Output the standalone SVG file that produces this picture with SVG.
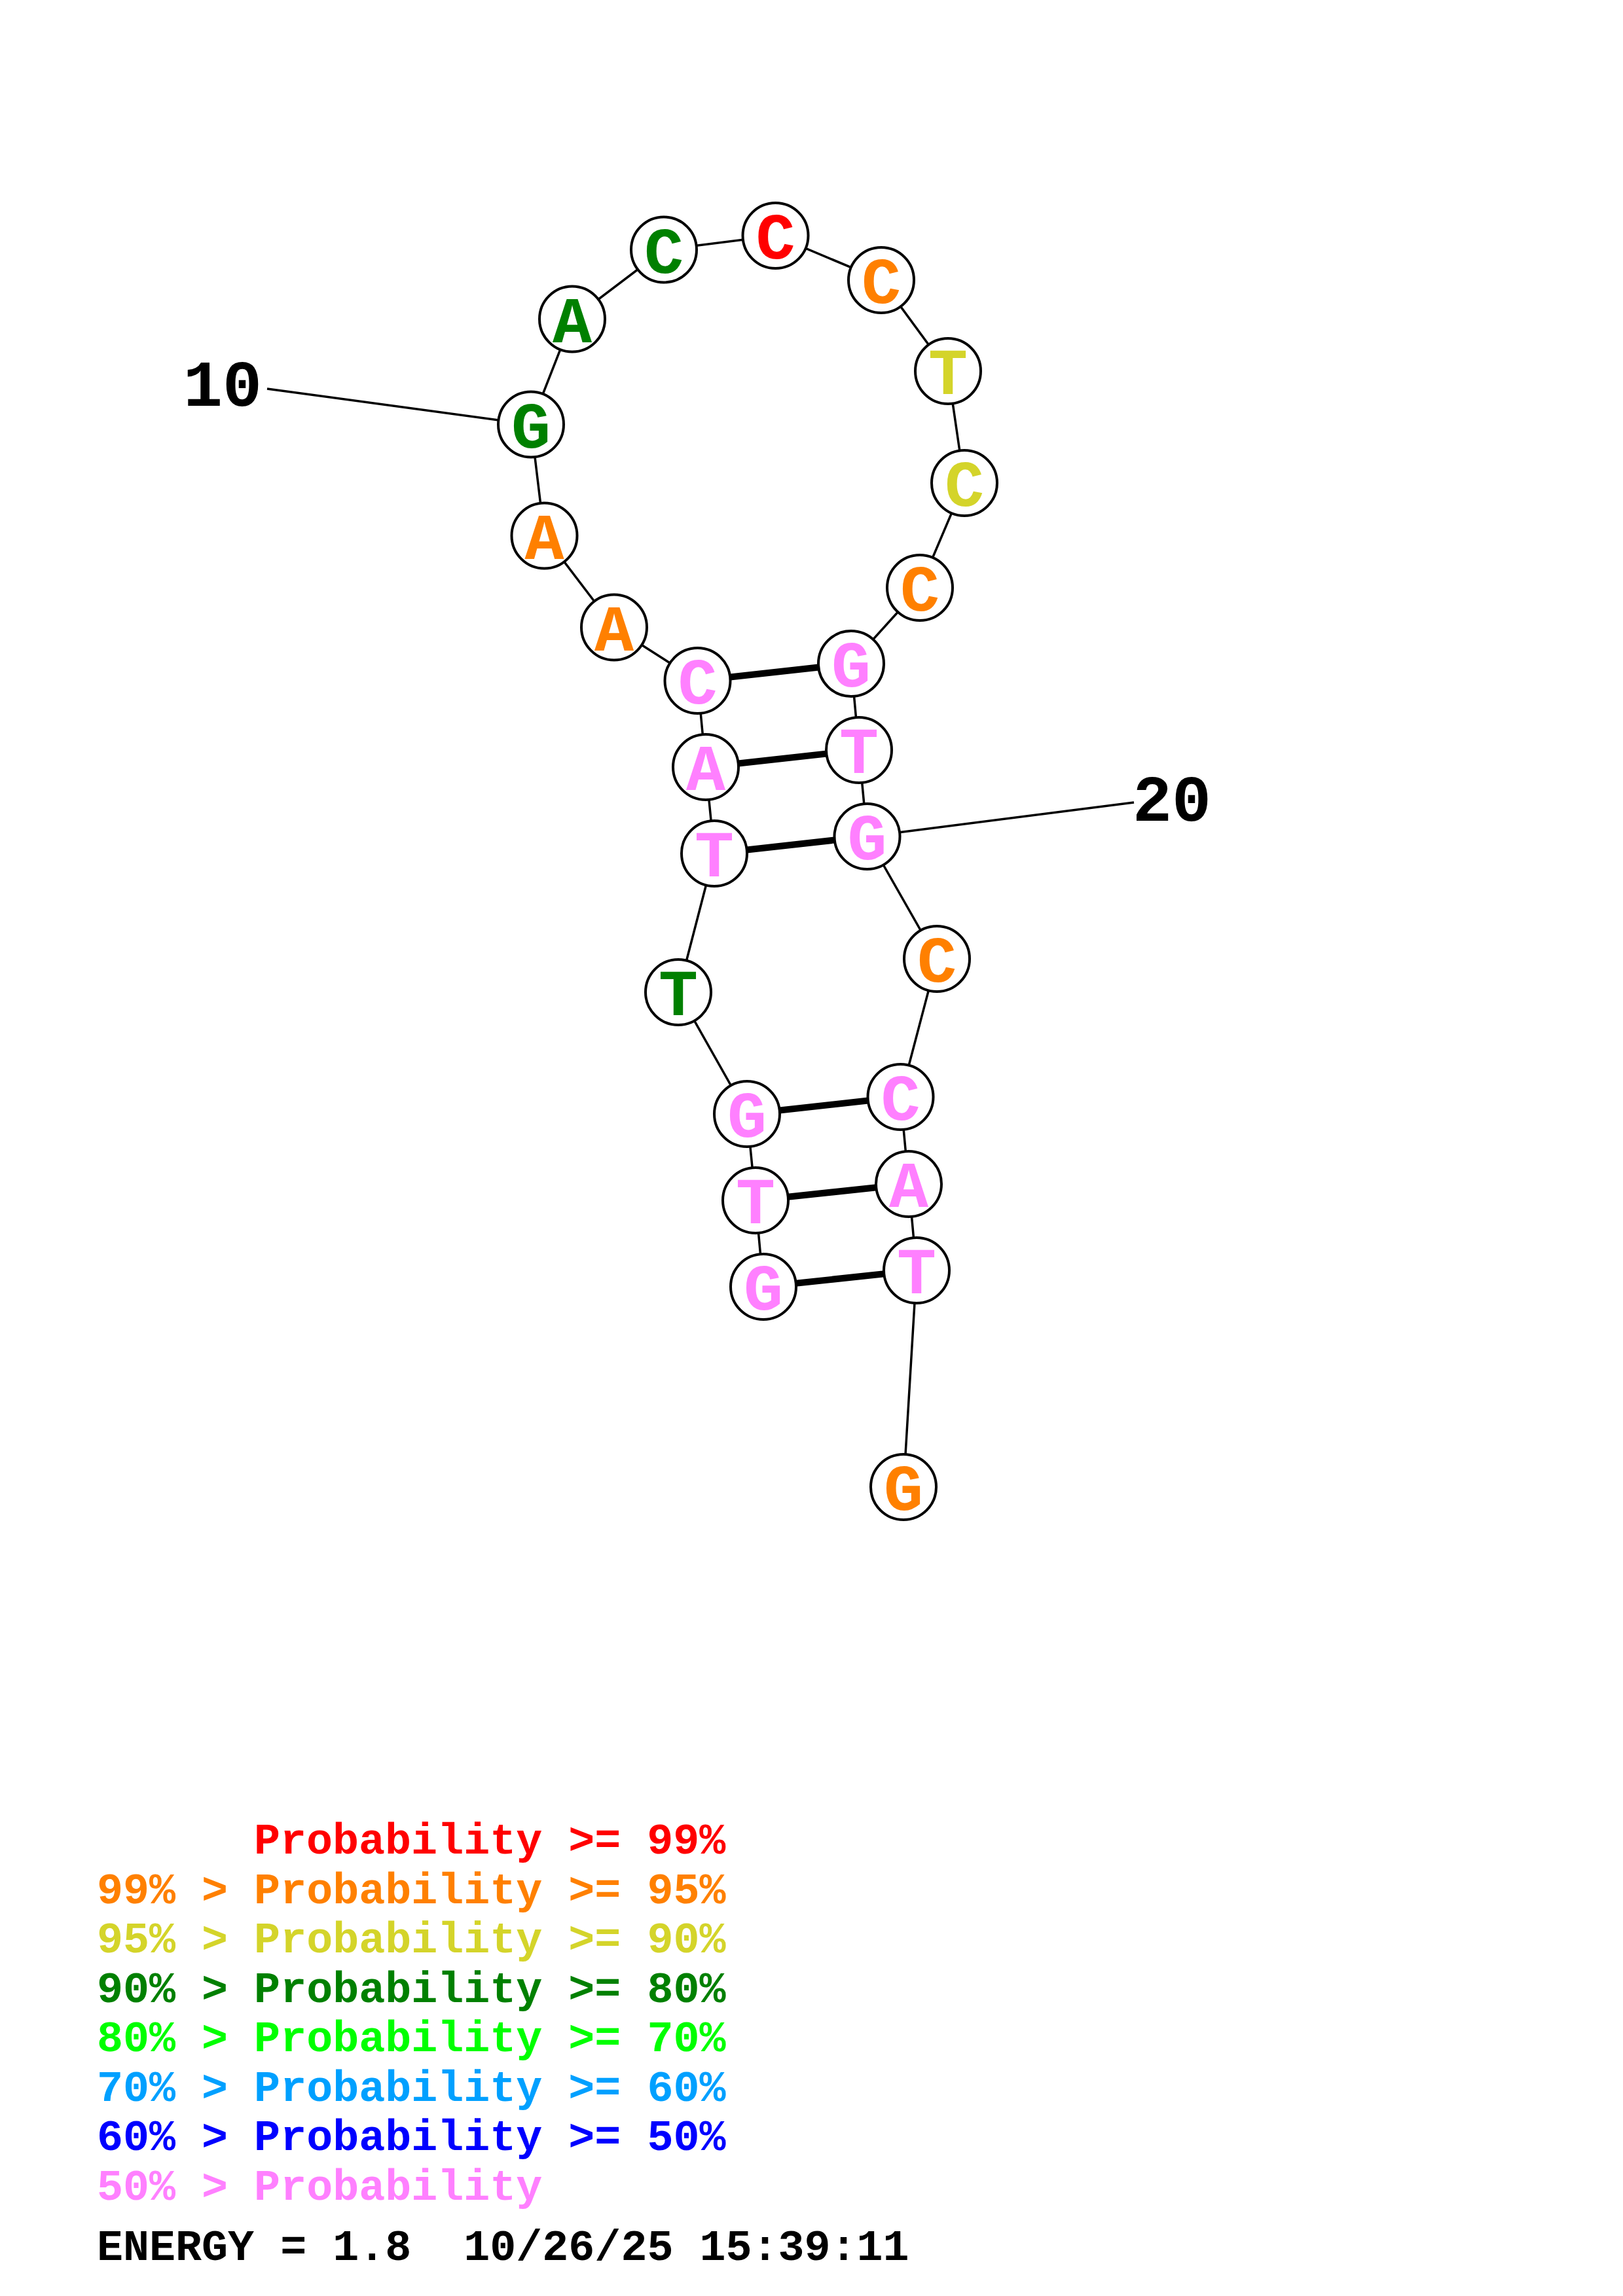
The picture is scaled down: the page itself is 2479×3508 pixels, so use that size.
<svg xmlns="http://www.w3.org/2000/svg" width="2479" height="3508" viewBox="0 0 2479 3508">
<style>
.bb{stroke:#000;stroke-width:3.5;fill:none}
.pr{stroke:#000;stroke-width:10;fill:none}
.nd circle{fill:#fff;stroke:#000;stroke-width:4}
.nd text{font-family:"Liberation Mono","Courier New",monospace;font-weight:bold;font-size:100px;text-anchor:middle}
.lb{font-family:"Liberation Mono","Courier New",monospace;font-weight:bold;font-size:100px;fill:#000}
.lg{font-family:"Liberation Mono","Courier New",monospace;font-weight:bold;font-size:66.7px}
.c1{fill:#FF0000}.c2{fill:#FF8000}.c3{fill:#D4D42A}.c4{fill:#008000}.c5{fill:#00FF00}.c6{fill:#00A0FF}.c7{fill:#0000FF}.c8{fill:#FF80FF}
</style>
<rect width="2479" height="3508" fill="#fff"/>
<g id="connectors">
<polyline class="bb" points="1166,1966 1154,1834 1141,1702 1036,1516 1091,1304 1078,1172 1065.5,1040 938,958.5 831.5,818.5 811,648.5 874,487.5 1014,381.5 1184.5,360 1346,428 1448,567 1473,738 1405,898 1300,1014 1312,1146 1324.5,1278 1431,1465 1375.5,1676 1388,1809 1400,1941 1380,2272"/>
<line class="pr" x1="1065.5" y1="1040" x2="1300" y2="1014"/>
<line class="pr" x1="1078" y1="1172" x2="1312" y2="1146"/>
<line class="pr" x1="1091" y1="1304" x2="1324.5" y2="1278"/>
<line class="pr" x1="1141" y1="1702" x2="1375.5" y2="1676"/>
<line class="pr" x1="1154" y1="1834" x2="1388" y2="1809"/>
<line class="pr" x1="1166" y1="1966" x2="1400" y2="1941"/>
<line class="bb" x1="408" y1="594" x2="811" y2="648.5"/>
<line class="bb" x1="1732" y1="1226" x2="1324.5" y2="1278"/>
</g>
<g id="n1" class="nd"><circle cx="1166" cy="1966" r="50"/><text x="1166" y="2001" class="c8">G</text></g>
<g id="n2" class="nd"><circle cx="1154" cy="1834" r="50"/><text x="1154" y="1869" class="c8">T</text></g>
<g id="n3" class="nd"><circle cx="1141" cy="1702" r="50"/><text x="1141" y="1737" class="c8">G</text></g>
<g id="n4" class="nd"><circle cx="1036" cy="1516" r="50"/><text x="1036" y="1551" class="c4">T</text></g>
<g id="n5" class="nd"><circle cx="1091" cy="1304" r="50"/><text x="1091" y="1339" class="c8">T</text></g>
<g id="n6" class="nd"><circle cx="1078" cy="1172" r="50"/><text x="1078" y="1207" class="c8">A</text></g>
<g id="n7" class="nd"><circle cx="1065.5" cy="1040" r="50"/><text x="1065.5" y="1075" class="c8">C</text></g>
<g id="n8" class="nd"><circle cx="938" cy="958.5" r="50"/><text x="938" y="993.5" class="c2">A</text></g>
<g id="n9" class="nd"><circle cx="831.5" cy="818.5" r="50"/><text x="831.5" y="853.5" class="c2">A</text></g>
<g id="n10" class="nd"><circle cx="811" cy="648.5" r="50"/><text x="811" y="683.5" class="c4">G</text></g>
<g id="n11" class="nd"><circle cx="874" cy="487.5" r="50"/><text x="874" y="522.5" class="c4">A</text></g>
<g id="n12" class="nd"><circle cx="1014" cy="381.5" r="50"/><text x="1014" y="416.5" class="c4">C</text></g>
<g id="n13" class="nd"><circle cx="1184.5" cy="360" r="50"/><text x="1184.5" y="395" class="c1">C</text></g>
<g id="n14" class="nd"><circle cx="1346" cy="428" r="50"/><text x="1346" y="463" class="c2">C</text></g>
<g id="n15" class="nd"><circle cx="1448" cy="567" r="50"/><text x="1448" y="602" class="c3">T</text></g>
<g id="n16" class="nd"><circle cx="1473" cy="738" r="50"/><text x="1473" y="773" class="c3">C</text></g>
<g id="n17" class="nd"><circle cx="1405" cy="898" r="50"/><text x="1405" y="933" class="c2">C</text></g>
<g id="n18" class="nd"><circle cx="1300" cy="1014" r="50"/><text x="1300" y="1049" class="c8">G</text></g>
<g id="n19" class="nd"><circle cx="1312" cy="1146" r="50"/><text x="1312" y="1181" class="c8">T</text></g>
<g id="n20" class="nd"><circle cx="1324.5" cy="1278" r="50"/><text x="1324.5" y="1313" class="c8">G</text></g>
<g id="n21" class="nd"><circle cx="1431" cy="1465" r="50"/><text x="1431" y="1500" class="c2">C</text></g>
<g id="n22" class="nd"><circle cx="1375.5" cy="1676" r="50"/><text x="1375.5" y="1711" class="c8">C</text></g>
<g id="n23" class="nd"><circle cx="1388" cy="1809" r="50"/><text x="1388" y="1844" class="c8">A</text></g>
<g id="n24" class="nd"><circle cx="1400" cy="1941" r="50"/><text x="1400" y="1976" class="c8">T</text></g>
<g id="n25" class="nd"><circle cx="1380" cy="2272" r="50"/><text x="1380" y="2307" class="c2">G</text></g>
<g id="labels">
<text class="lb" x="280" y="620">10</text>
<text class="lb" x="1730" y="1254">20</text>
</g>
<g id="legend" class="lg">
<text x="388" y="2832" class="c1">Probability &gt;= 99%</text>
<text x="148" y="2907.5" class="c2">99% &gt; Probability &gt;= 95%</text>
<text x="148" y="2983" class="c3">95% &gt; Probability &gt;= 90%</text>
<text x="148" y="3058.5" class="c4">90% &gt; Probability &gt;= 80%</text>
<text x="148" y="3134" class="c5">80% &gt; Probability &gt;= 70%</text>
<text x="148" y="3209.5" class="c6">70% &gt; Probability &gt;= 60%</text>
<text x="148" y="3285" class="c7">60% &gt; Probability &gt;= 50%</text>
<text x="148" y="3360.5" class="c8">50% &gt; Probability</text>
<text x="148" y="3453" fill="#000" xml:space="preserve">ENERGY = 1.8  10/26/25 15:39:11</text>
</g>
</svg>
